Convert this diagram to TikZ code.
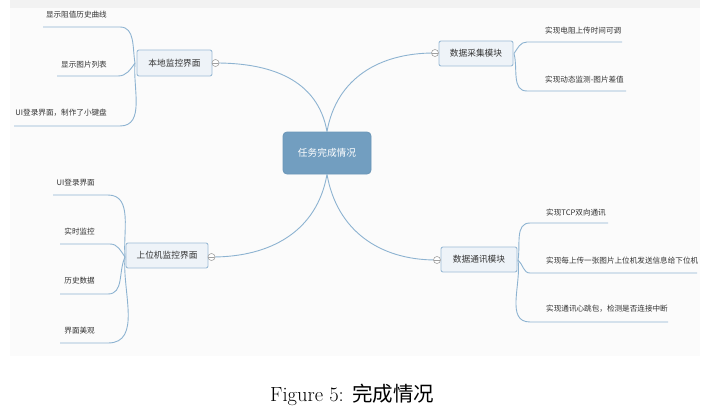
\documentclass[tikz,border=0pt]{standalone}
\usepackage{fontspec}
\newfontfamily\cjk{Noto Sans CJK SC}
\definecolor{lineblue}{HTML}{8DB3D1}
\definecolor{subfill}{HTML}{EEF3F8}
\definecolor{subdraw}{HTML}{9CBCD6}
\definecolor{cfill}{HTML}{729EC0}
\definecolor{cdraw}{HTML}{6A96B8}
\definecolor{panelc}{HTML}{FBFBFB}
\definecolor{stripc}{HTML}{F2F2F2}
\definecolor{txt}{HTML}{333333}
\definecolor{togc}{HTML}{A0A0A0}
\tikzset{
  conn/.style={draw=lineblue, line width=0.9pt},
  centerbox/.style={rectangle, rounded corners=4pt, fill=cfill, draw=cdraw, line width=0.8pt,
    minimum width=88pt, minimum height=42pt, inner sep=0pt, text=white,
    font=\cjk\fontsize{9.7}{11}\selectfont},
  subbox/.style={rectangle, rounded corners=2pt, fill=subfill, draw=subdraw, line width=0.9pt,
    minimum height=25pt, inner sep=0pt, text=txt, font=\cjk\fontsize{8.7}{10}\selectfont},
  leaf/.style={inner sep=0pt, text=txt, font=\cjk\fontsize{7.6}{9}\selectfont},
  tog/.style={circle, draw=togc, fill=white, minimum size=7pt, inner sep=0pt, line width=0.6pt,
    path picture={\draw[togc, line width=0.6pt] (path picture bounding box.west) -- (path picture bounding box.east);}}
}
\begin{document}
\begin{tikzpicture}[x=1pt,y=1pt]
\useasboundingbox (0,0) rectangle (709,-412);
\fill[panelc] (10,0) rectangle (700,-356);
\fill[stripc] (10,0) rectangle (700,-8);

% main nodes
\node[centerbox] (c) at (327,-153) {任务完成情况};
\node[subbox, minimum width=75pt, minimum height=26pt] (n1) at (174.5,-63) {本地监控界面};
\node[subbox, minimum width=82pt] (n2) at (167,-255.5) {上位机监控界面};
\node[subbox, minimum width=74pt] (n3) at (476,-53.5) {数据采集模块};
\node[subbox, minimum width=76pt] (n4) at (479,-259.5) {数据通讯模块};

% main connectors
\draw[conn] (c.north) to[out=100,in=0,looseness=1.05] (216,-63) coordinate (t1e);
\draw[conn] (c.north) to[out=80,in=180,looseness=1.05] (434,-53) coordinate (t3w);
\draw[conn] (c.south) to[out=260,in=0,looseness=1.05] (212,-257) coordinate (t2e);
\draw[conn] (c.south) to[out=280,in=180,looseness=1.05] (436,-260) coordinate (t4w);

\node[tog] (t1) at (215.5,-63) {};
\node[tog] (t2) at (211.5,-257) {};
\node[tog] (t3) at (435,-53) {};
\node[tog] (t4) at (437,-260) {};

% convergence points
\coordinate (p1) at (135,-63);
\coordinate (p2) at (125,-257);
\coordinate (p3) at (514,-53.5);
\coordinate (p4) at (518,-260);

% leaves of n1
\node[leaf, anchor=east] (l11) at (107,-15) {显示阻值历史曲线};
\node[leaf, anchor=east] (l12) at (107,-65) {显示图片列表};
\node[leaf, anchor=east] (l13) at (107,-113) {UI登录界面，制作了小键盘};
\draw[conn] (43,-27) coordinate (u11a) -- (120,-27) coordinate (u11b) to[out=0,in=100] (p1);
\draw[conn] (57,-76) coordinate (u12a) -- (118,-76) coordinate (u12b) to[out=0,in=235] (p1);
\draw[conn] (14,-126) coordinate (u13a) -- (120,-126) coordinate (u13b) to[out=0,in=265] (p1);

% leaves of n2
\node[leaf, anchor=east] (l21) at (95,-183) {UI登录界面};
\node[leaf, anchor=east] (l22) at (95,-232) {实时监控};
\node[leaf, anchor=east] (l23) at (95,-281) {历史数据};
\node[leaf, anchor=east] (l24) at (95,-331) {界面美观};
\draw[conn] (53,-195) coordinate (u21a) -- (108,-195) coordinate (u21b) to[out=0,in=95] (p2);
\draw[conn] (60,-244) coordinate (u22a) -- (110,-244) coordinate (u22b) to[out=0,in=125] (p2);
\draw[conn] (60,-294) coordinate (u23a) -- (108,-294) coordinate (u23b) to[out=0,in=245] (p2);
\draw[conn] (60,-343) coordinate (u24a) -- (108,-343) coordinate (u24b) to[out=0,in=265] (p2);

% leaves of n3
\node[leaf, anchor=west] (l31) at (545,-31) {实现电阻上传时间可调};
\node[leaf, anchor=west] (l32) at (545,-80) {实现动态监测-图片差值};
\draw[conn] (p3) to[out=55,in=180] (527,-42) coordinate (u31a) -- (622,-42) coordinate (u31b);
\draw[conn] (p3) to[out=-75,in=180] (527,-91) coordinate (u32a) -- (626,-91) coordinate (u32b);

% leaves of n4
\node[leaf, anchor=west] (l41) at (546,-213) {实现TCP双向通讯};
\node[leaf, anchor=west] (l42) at (546,-261) {实现每上传一张图片上位机发送信息给下位机};
\node[leaf, anchor=west] (l43) at (546,-309) {实现通讯心跳包，检测是否连接中断};
\draw[conn] (p4) to[out=80,in=180] (530,-223) coordinate (u41a) -- (608,-223) coordinate (u41b);
\draw[conn] (p4) to[out=-40,in=180] (530,-273) coordinate (u42a) -- (697,-273) coordinate (u42b);
\draw[conn] (p4) to[out=-82,in=180] (530,-322) coordinate (u43a) -- (668,-322) coordinate (u43b);

% caption
\node[anchor=base west, inner sep=0pt, font=\fontsize{20.5}{24}\selectfont] (cap) at (270,-401) {Figure 5: {\cjk 完成情况}};
\end{tikzpicture}
\end{document}
